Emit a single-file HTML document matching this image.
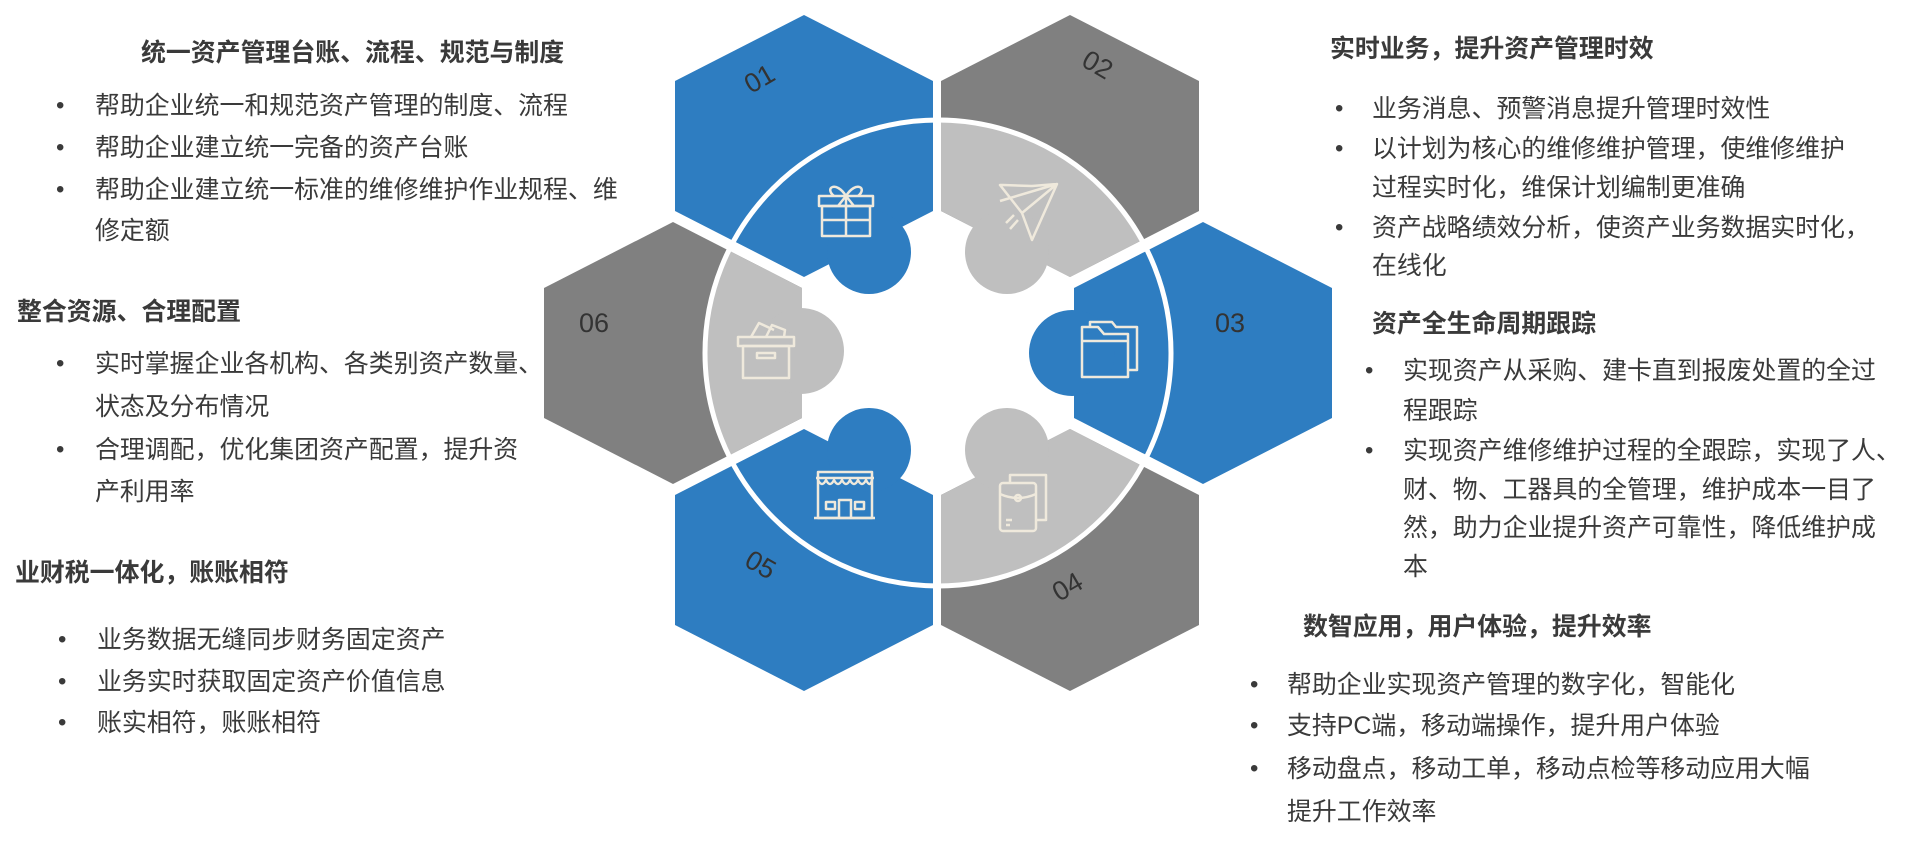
<!DOCTYPE html>
<html><head><meta charset="utf-8"><style>
html,body{margin:0;padding:0;background:#fff;}
body{width:1927px;height:845px;position:relative;overflow:hidden;font-family:"Liberation Sans","Noto Sans CJK SC",sans-serif;color:#3a3a3a;}
.t{position:absolute;white-space:nowrap;font-size:24.9px;line-height:30px;}
.b{font-weight:bold;}
.d{position:absolute;font-size:24px;line-height:30px;}
svg{position:absolute;left:0;top:0;}
</style></head><body>
<svg width="1927" height="845" viewBox="0 0 1927 845">
<defs><clipPath id="c"><circle cx="938" cy="353" r="232"/></clipPath></defs>
<g>
<polygon points="804,15 933,81 933,211 804,277 675,211 675,81" fill="#2e7dc1"/>
<polygon points="1070,15 1199,81 1199,211 1070,277 941,211 941,81" fill="#808080"/>
<polygon points="1203,222 1332,288 1332,418 1203,484 1074,418 1074,288" fill="#2e7dc1"/>
<polygon points="1070,429 1199,495 1199,625 1070,691 941,625 941,495" fill="#808080"/>
<polygon points="804,429 933,495 933,625 804,691 675,625 675,495" fill="#2e7dc1"/>
<polygon points="673,222 802,288 802,418 673,484 544,418 544,288" fill="#808080"/>
<g clip-path="url(#c)" fill="#bfbfbf">
<polygon points="1070,15 1199,81 1199,211 1070,277 941,211 941,81"/>
<polygon points="1070,429 1199,495 1199,625 1070,691 941,625 941,495"/>
<polygon points="673,222 802,288 802,418 673,484 544,418 544,288"/>
</g>
<circle cx="938" cy="353" r="233" fill="none" stroke="#fff" stroke-width="5"/>
<circle cx="869" cy="252" r="42" fill="#2e7dc1"/>
<circle cx="1007" cy="252" r="42" fill="#bfbfbf"/>
<circle cx="1072" cy="353" r="43" fill="#2e7dc1"/>
<circle cx="801" cy="351" r="43" fill="#bfbfbf"/>
<circle cx="869" cy="450" r="42" fill="#2e7dc1"/>
<circle cx="1007" cy="450" r="42" fill="#bfbfbf"/>
</g>
<g fill="none" stroke="#efe9dc" stroke-width="2.5" stroke-linejoin="round">
<rect x="819" y="196" width="54" height="10"/><rect x="822" y="206" width="48" height="30"/>
<line x1="846" y1="196" x2="846" y2="236"/><line x1="822" y1="220" x2="870" y2="220"/>
<path d="M846 196 C836 180 824 188 834 196 M846 196 C856 180 868 188 858 196 M846 196 L838 206 M846 196 L854 206"/>
<path d="M1000 185 L1003 185 L1032 186 L1057 184 L1032 240 L1022 213 Z M1000 201 L1057 184 L1022 213"/>
<path d="M1014 215 L1006 223 M1018 220 L1010 229"/>
<path d="M1082 327 L1082 377 L1128 377 L1128 334 L1104 334 L1098 327 Z M1082 341 L1128 341"/>
<path d="M1090 327 L1090 322 L1112 322 L1116 327 L1137 327 L1137 370 L1128 370"/>
<rect x="738" y="337" width="56" height="9"/><rect x="743" y="346" width="46" height="32"/>
<rect x="757" y="353" width="18" height="5"/>
<path d="M751 337 L759 323 L774 330 M766 337 L772 325 L785 330 L784 337"/>
<rect x="818" y="472" width="54" height="46"/><line x1="814" y1="518" x2="875" y2="518"/>
<line x1="816" y1="478" x2="874" y2="478"/>
<path d="M818 480 q4 8 8 0 q4 8 8 0 q4 8 8 0 q4 8 8 0 q4 8 8 0 q4 8 8 0 q4 8 6 0"/>
<rect x="826" y="502" width="9" height="7"/><rect x="855" y="502" width="9" height="7"/>
<path d="M839 518 L839 500 L851 500 L851 518"/>
<rect x="1000" y="483" width="36" height="48" rx="3"/>
<path d="M1010 483 L1010 475 L1046 475 L1046 520 L1036 520 M1000 494 q18 8 36 0"/>
<circle cx="1018" cy="498" r="3"/><path d="M1006 520 L1012 520 M1006 525 L1010 525"/>
</g>
<g font-family="Liberation Sans, sans-serif" font-size="27" fill="#333">
<text x="759" y="88" text-anchor="middle" transform="rotate(-30 759 78)">01</text>
<text x="1098" y="74" text-anchor="middle" transform="rotate(30 1098 64)">02</text>
<text x="1230" y="332" text-anchor="middle">03</text>
<text x="594" y="332" text-anchor="middle">06</text>
<text x="761" y="574" text-anchor="middle" transform="rotate(30 761 564)">05</text>
<text x="1067" y="596" text-anchor="middle" transform="rotate(-30 1067 586)">04</text>
</g>
</svg>

<div class="t b" style="left:141px;top:38px">统一资产管理台账、流程、规范与制度</div>
<div class="d" style="left:56px;top:91px">•</div><div class="t" style="left:95px;top:91px">帮助企业统一和规范资产管理的制度、流程</div>
<div class="d" style="left:56px;top:133px">•</div><div class="t" style="left:95px;top:133px">帮助企业建立统一完备的资产台账</div>
<div class="d" style="left:56px;top:175px">•</div><div class="t" style="left:95px;top:175px">帮助企业建立统一标准的维修维护作业规程、维</div>
<div class="t" style="left:95px;top:216px">修定额</div>

<div class="t b" style="left:17px;top:297px">整合资源、合理配置</div>
<div class="d" style="left:56px;top:349px">•</div><div class="t" style="left:95px;top:349px">实时掌握企业各机构、各类别资产数量、</div>
<div class="t" style="left:95px;top:392px">状态及分布情况</div>
<div class="d" style="left:56px;top:435px">•</div><div class="t" style="left:95px;top:435px">合理调配，优化集团资产配置，提升资</div>
<div class="t" style="left:95px;top:477px">产利用率</div>

<div class="t b" style="left:15px;top:558px">业财税一体化，账账相符</div>
<div class="d" style="left:58px;top:625px">•</div><div class="t" style="left:97px;top:625px">业务数据无缝同步财务固定资产</div>
<div class="d" style="left:58px;top:667px">•</div><div class="t" style="left:97px;top:667px">业务实时获取固定资产价值信息</div>
<div class="d" style="left:58px;top:708px">•</div><div class="t" style="left:97px;top:708px">账实相符，账账相符</div>

<div class="t b" style="left:1330px;top:34px">实时业务，提升资产管理时效</div>
<div class="d" style="left:1335px;top:94px">•</div><div class="t" style="left:1372px;top:94px">业务消息、预警消息提升管理时效性</div>
<div class="d" style="left:1335px;top:134px">•</div><div class="t" style="left:1372px;top:134px">以计划为核心的维修维护管理，使维修维护</div>
<div class="t" style="left:1372px;top:173px">过程实时化，维保计划编制更准确</div>
<div class="d" style="left:1335px;top:213px">•</div><div class="t" style="left:1372px;top:213px">资产战略绩效分析，使资产业务数据实时化，</div>
<div class="t" style="left:1372px;top:251px">在线化</div>

<div class="t b" style="left:1372px;top:309px">资产全生命周期跟踪</div>
<div class="d" style="left:1365px;top:356px">•</div><div class="t" style="left:1403px;top:356px">实现资产从采购、建卡直到报废处置的全过</div>
<div class="t" style="left:1403px;top:396px">程跟踪</div>
<div class="d" style="left:1365px;top:436px">•</div><div class="t" style="left:1403px;top:436px">实现资产维修维护过程的全跟踪，实现了人、</div>
<div class="t" style="left:1403px;top:475px">财、物、工器具的全管理，维护成本一目了</div>
<div class="t" style="left:1403px;top:513px">然，助力企业提升资产可靠性，降低维护成</div>
<div class="t" style="left:1403px;top:552px">本</div>

<div class="t b" style="left:1303px;top:612px">数智应用，用户体验，提升效率</div>
<div class="d" style="left:1250px;top:670px">•</div><div class="t" style="left:1287px;top:670px">帮助企业实现资产管理的数字化，智能化</div>
<div class="d" style="left:1250px;top:711px">•</div><div class="t" style="left:1287px;top:711px">支持PC端，移动端操作，提升用户体验</div>
<div class="d" style="left:1250px;top:754px">•</div><div class="t" style="left:1287px;top:754px">移动盘点，移动工单，移动点检等移动应用大幅</div>
<div class="t" style="left:1287px;top:797px">提升工作效率</div>
</body></html>
